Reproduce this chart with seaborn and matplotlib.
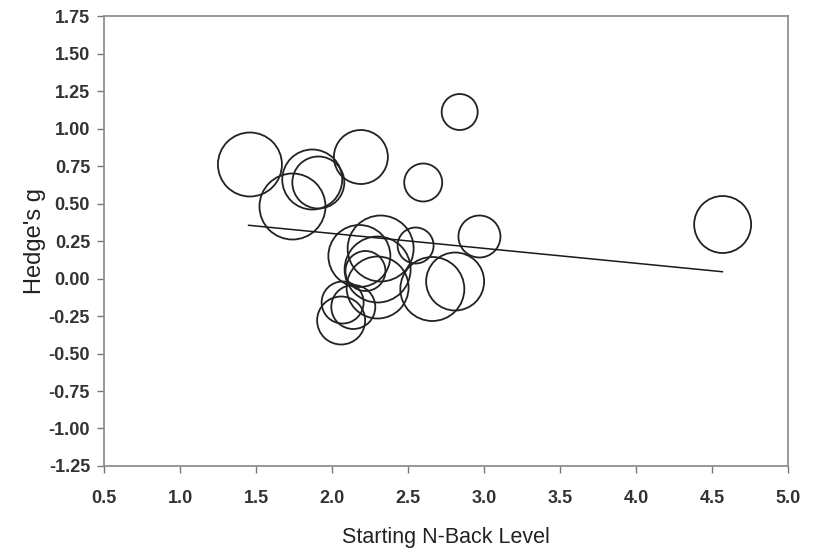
import numpy as np
import pandas as pd
import seaborn as sns
import matplotlib.pyplot as plt

# starting n-back level, effect size (Hedge's g) and study weight (circle area)
start_level = [1.46, 1.74, 1.87, 1.91, 2.19, 2.84, 2.60, 2.97, 4.57, 2.18,
               2.32, 2.55, 2.30, 2.22, 2.30, 2.66, 2.81, 2.07, 2.14, 2.06]
hedges_g = [0.76, 0.48, 0.66, 0.64, 0.81, 1.11, 0.64, 0.28, 0.36, 0.15,
            0.20, 0.22, 0.06, 0.05, -0.06, -0.07, -0.02, -0.16, -0.19, -0.28]
weight = [32, 33, 30, 26, 27, 18, 19, 21, 28.5, 31,
          33, 18, 33, 20, 31, 32, 29, 21, 22, 24]

# meta-regression line end points
fit_x = [1.45, 4.57]
fit_y = [0.355, 0.045]

df = pd.DataFrame({"level": start_level, "g": hedges_g,
                   "w": np.array(weight) ** 2})
fit = pd.DataFrame({"level": fit_x, "g": fit_y})

sns.set_style("white")
plt.rcParams['font.family'] = ['Liberation Sans', 'DejaVu Sans']

fig, ax = plt.subplots(figsize=(8.17, 5.52), dpi=100)
fig.subplots_adjust(left=0.1273, right=0.9645, top=0.971, bottom=0.1558)

# radius in px -> marker area in pt^2
wmax = df["w"].max()
smax = (2 * np.sqrt(wmax) * 0.72) ** 2
sns.scatterplot(data=df, x="level", y="g", size="w", sizes=(0, smax),
                size_norm=(0, wmax), facecolor="none", edgecolor="#222222",
                linewidth=1.3, legend=False, ax=ax)
sns.lineplot(data=fit, x="level", y="g", color="#1a1a1a", linewidth=1.1, ax=ax)

ax.set_xlim(0.5, 5.0)
ax.set_ylim(-1.25, 1.75)
ax.set_xticks(np.arange(0.5, 5.01, 0.5))
ax.set_yticks(np.arange(-1.25, 1.76, 0.25))
ax.set_xticklabels([f"{v:.1f}" for v in np.arange(0.5, 5.01, 0.5)])
ax.set_yticklabels([f"{v:.2f}" for v in np.arange(-1.25, 1.76, 0.25)])
for lab in ax.get_xticklabels() + ax.get_yticklabels():
    lab.set_fontweight("bold")
    lab.set_color("#333333")
ax.tick_params(axis="both", direction="out", length=5, width=1,
               color="#777777", labelsize=13, bottom=True, left=True)
ax.tick_params(axis="x", pad=12)
ax.tick_params(axis="y", pad=5)
for sp in ax.spines.values():
    sp.set_color("#888888")
    sp.set_linewidth(1.2)

ax.set_xlabel("Starting N-Back Level", fontsize=15.5, color="#222222", labelpad=15)
ax.set_ylabel("Hedge's g", fontsize=17, color="#222222", labelpad=2)

fig.savefig("out.png", dpi=100)
